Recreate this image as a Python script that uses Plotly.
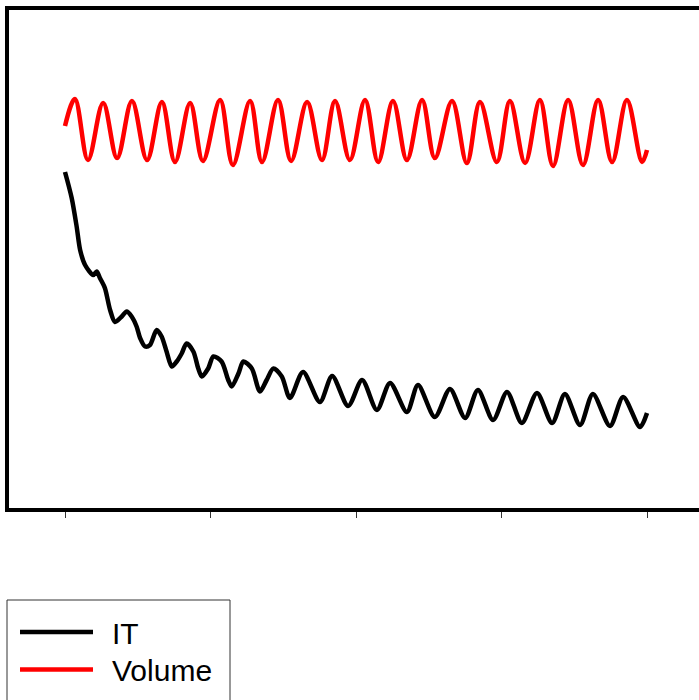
import plotly.graph_objects as go

# ---- data (time in cycles, signal in arbitrary units) ----
vol_x = [0.00, 0.34, 0.79, 1.31, 1.79, 2.30, 2.82, 3.33, 3.78, 4.30, 4.74, 5.33, 5.77,
         6.36, 6.77, 7.32, 7.77, 8.32, 8.83, 9.28, 9.79, 10.31, 10.76, 11.27, 11.75,
         12.27, 12.71, 13.30, 13.81, 14.26, 14.84, 15.29, 15.81, 16.32, 16.77, 17.29,
         17.80, 18.32, 18.80, 19.31, 19.83, 20.00]
vol_y = [76.4, 81.8, 69.6, 81.0, 70.0, 81.4, 69.6, 81.2, 69.2, 81.0, 69.4, 81.6, 68.6,
         81.4, 69.2, 81.6, 69.4, 81.2, 69.6, 81.4, 69.6, 81.6, 69.2, 81.4, 69.6,
         81.6, 70.0, 81.4, 69.0, 81.2, 69.2, 81.4, 69.0, 81.6, 68.4, 81.6,
         68.6, 81.6, 69.2, 81.6, 69.2, 71.6]

it_x = [0.00, 0.23, 0.40, 0.52, 0.69, 0.97, 1.09, 1.20, 1.37, 1.55, 1.72, 1.95, 2.12,
        2.29, 2.46, 2.58, 2.75, 2.92, 3.15, 3.32, 3.49, 3.67, 3.84, 4.01, 4.18, 4.41,
        4.58, 4.70, 4.92, 5.10, 5.38, 5.61, 5.73, 5.96, 6.13, 6.42, 6.70, 6.93, 7.16,
        7.45, 7.73, 8.18, 8.76, 9.18, 9.73, 10.21, 10.72, 11.17, 11.75, 12.13, 12.71,
        13.23, 13.75, 14.19, 14.71, 15.19, 15.70, 16.22, 16.74, 17.18, 17.70, 18.14,
        18.73, 19.18, 19.76, 20.00]
it_y = [67.2, 62.0, 56.3, 51.6, 48.6, 46.6, 47.3, 46.0, 44.0, 39.6, 37.2, 38.3, 39.3,
        38.3, 36.3, 34.0, 32.3, 32.6, 35.6, 34.3, 31.3, 28.3, 29.3, 30.9, 32.9, 31.3,
        27.9, 26.3, 27.9, 30.3, 29.3, 25.6, 24.3, 26.9, 29.3, 27.9, 23.3, 25.6, 27.9,
        26.3, 22.0, 27.2, 21.2, 26.4, 20.4, 25.6, 19.6, 25.0, 19.2, 24.6, 18.2,
        23.8, 18.0, 23.6, 17.6, 23.2, 17.0, 23.0, 17.0, 22.8, 16.6, 22.8,
        16.4, 22.2, 16.2, 19.0]

tick_vals = [0, 5, 10, 15, 20]
series_names = ["IT", "Volume"]
series_colors = ["#000000", "#ff0000"]

W, H = 699, 700

fig = go.Figure()
fig.add_trace(go.Scatter(x=it_x, y=it_y, mode="lines", name=series_names[0],
                         line=dict(color=series_colors[0], width=4.5, shape="spline", smoothing=0.8),
                         showlegend=False))
fig.add_trace(go.Scatter(x=vol_x, y=vol_y, mode="lines", name=series_names[1],
                         line=dict(color=series_colors[1], width=4.5, shape="spline", smoothing=1.0),
                         showlegend=False))

px_per_unit = 29.1
x_left = -(65 - 9) / px_per_unit
x_right = 20 + (699 - 647) / px_per_unit

fig.update_layout(
    width=W, height=H,
    margin=dict(l=0, r=0, t=0, b=0),
    paper_bgcolor="white", plot_bgcolor="white",
    xaxis=dict(domain=[9 / W, 1], range=[x_left, x_right], showgrid=False, zeroline=False,
               showline=True, linewidth=4, linecolor="black", mirror=True,
               ticks="outside", tickvals=tick_vals, ticklen=6, tickwidth=1,
               tickcolor="#333333", showticklabels=False),
    yaxis=dict(domain=[1 - 508 / H, 1 - 10 / H], range=[0, 99.6], showgrid=False,
               zeroline=False, showline=True, linewidth=4, linecolor="black",
               mirror=False, ticks="", showticklabels=False),
)

# legend drawn manually to match long sample lines
shapes = [
    dict(type="rect", xref="paper", yref="paper", x0=7 / W, x1=230 / W,
         y0=-0.05, y1=1 - 600 / H, line=dict(color="#333333", width=1)),
]
legend_rows = [632, 669.5]
for i, name in enumerate(series_names):
    yy = 1 - legend_rows[i] / H
    shapes.append(dict(type="line", xref="paper", yref="paper", x0=20 / W, x1=93 / W,
                       y0=yy, y1=yy, line=dict(color=series_colors[i], width=4.5)))
    fig.add_annotation(x=110 / W, y=1 - (legend_rows[i] + 1) / H, xref="paper", yref="paper",
                       text=name, showarrow=False, xanchor="left", yanchor="middle",
                       font=dict(family="Liberation Sans, Arial", size=30, color="black"))
fig.update_layout(shapes=shapes)

fig.write_html("out.html")
